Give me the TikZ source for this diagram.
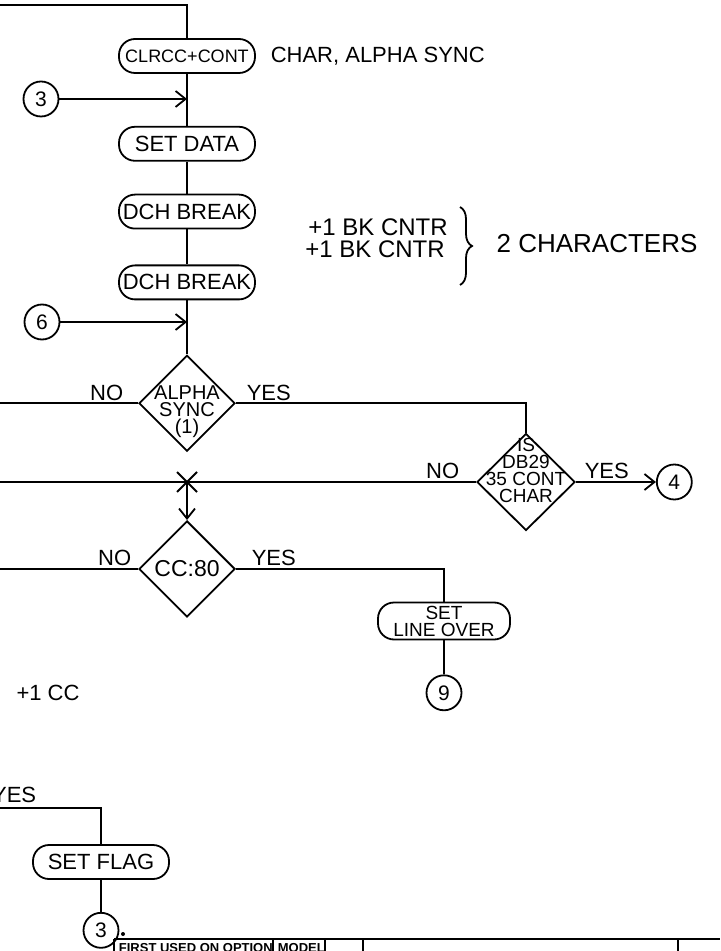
\documentclass[tikz,border=0pt]{standalone}
\usepackage{fontspec}
\setmainfont{Liberation Sans}
\usetikzlibrary{shapes.geometric, arrows.meta, positioning, decorations.pathreplacing}

\begin{document}
\begin{tikzpicture}[
        x=0.5pt, y=-0.5pt,
        line width=0.9pt,
        node distance=16pt and 8pt,
        term/.style={rectangle, draw, rounded corners=8pt, text centered, inner sep=1pt, minimum width=68pt, minimum height=17pt, font=\fontsize{11}{11}\selectfont},
        decision/.style={diamond, draw, inner sep=0pt, minimum width=48pt, minimum height=48pt},
        dtext/.style={align=center, inner sep=0pt, font=\fontsize{9.5}{8.5}\selectfont},
        conn/.style={circle, draw, inner sep=0pt, minimum size=17.5pt, font=\fontsize{10.5}{10.5}\selectfont},
        lbl/.style={inner sep=1pt, font=\fontsize{11}{11}\selectfont},
        arrow/.style={-{Straight Barb[length=5pt, width=8pt]}}
        ]
        \useasboundingbox (0,0) rectangle (720,951);

        % main column
        \coordinate (topin) at (0,5);
        \node[term, font=\fontsize{9}{10}\selectfont] (clr) at (187,56) {CLRCC+CONT};
        \node[lbl, right=6pt of clr] (clrnote) {CHAR, ALPHA SYNC};
        \node[term, below=26pt of clr] (setdata) {SET DATA};
        \node[term, below=16pt of setdata] (dchA) {DCH BREAK};
        \node[term, below=17.5pt of dchA] (dchB) {DCH BREAK};
        \node[decision, below=27pt of dchB] (alpha) {};
        \node[dtext, font=\fontsize{10}{8.5}\selectfont, yshift=-4pt] (alphatxt) at (alpha) {ALPHA\\SYNC\\(1)};

        \draw (topin) -| (clr);
        \draw (clr) -- (setdata);
        \draw (setdata) -- (dchA);
        \draw (dchA) -- (dchB);
        \draw (dchB) -- (alpha);

        % entry points
        \node[conn] (cthree) at (41,99) {3};
        \node[conn] (csix) at (42,322) {6};
        \draw[arrow] (cthree) -- (cthree -| clr);
        \draw[arrow] (csix) -- (csix -| dchB);

        % break counter note
        \node[lbl, font=\fontsize{12}{12}\selectfont] (bkA) at (378,227) {+1 BK CNTR};
        \node[lbl, font=\fontsize{12}{12}\selectfont] (bkB) at (375,249) {+1 BK CNTR};
        \coordinate (brtop) at (460,207);
        \coordinate (brbot) at (460,285);
        \draw[decorate, decoration={brace, amplitude=6pt}] (brtop) -- (brbot);
        \node[lbl, font=\fontsize{13}{13}\selectfont] (chars) at (597,244) {2 CHARACTERS};

        % alpha sync test
        \node[lbl, above left=0pt and 6pt of alpha.west] (alphano) {NO};
        \node[lbl, above right=0pt and 4pt of alpha.east] (alphayes) {YES};
        \draw (alpha.west) -- (alpha.west -| topin);

        \node[decision, minimum width=49pt, minimum height=48.5pt] (db) at (526,482) {};
        \node[dtext, yshift=6pt] (dbtxt) at (db) {IS\\DB29\\35 CONT\\CHAR};
        \draw (alpha.east) -| (db.north);
        \node[lbl, above left=0pt and 7pt of db.west] (dbno) {NO};
        \node[lbl, above right=0pt and 3pt of db.east] (dbyes) {YES};
        \node[conn, right=40pt of db] (cfour) {4};
        \draw[arrow] (db) -- (cfour);

        \coordinate (cross) at (alpha |- db);
        \draw (db.west) -- (db.west -| topin);
        \draw ([shift={(-10,-10)}]cross) -- ([shift={(10,10)}]cross)
              ([shift={(-10,10)}]cross) -- ([shift={(10,-10)}]cross);

        % character count test
        \node[decision, below=19pt of cross] (cc) {};
        \node[dtext, font=\fontsize{11.5}{11.5}\selectfont] (cctxt) at (cc) {CC:80};
        \draw[arrow] (cross) -- (cc);
        \draw (cc.west) -- (cc.west -| topin);
        \node[lbl, above left=0pt and 2pt of cc.west] (ccno) {NO};
        \node[lbl, above right=0pt and 6.5pt of cc.east] (ccyes) {YES};

        \node[term, minimum width=66pt, minimum height=18.5pt, align=center, font=\fontsize{9.5}{8.5}\selectfont] (setline) at (444,621) {SET\\LINE OVER};
        \draw (cc.east) -| (setline);
        \node[conn, below=17pt of setline] (cnine) {9};
        \draw (setline) -- (cnine);
        \node[lbl] (plusc) at (48,693) {+1 CC};

        % set flag branch
        \node[lbl, anchor=east] (yesB) at (39,795) {YES};
        \coordinate (flagin) at (0,808);
        \node[term] (flag) at (101,862) {SET FLAG};
        \draw (flagin) -| (flag);
        \node[conn, below=16pt of flag] (cthreeB) {3};
        \draw (flag) -- (cthreeB);
        \fill (123,934) circle (1pt);

        % title block
        \draw[line width=1.2pt] (114,939) -- (720,939);
        \foreach \x in {114,273,325,363,678}
            \draw[line width=1.2pt] (\x,939) -- (\x,960);
        \node[anchor=north west, inner sep=0pt, font=\bfseries\fontsize{6.5}{6.5}\selectfont] (usedon) at (118,943) {FIRST USED ON OPTION};
        \node[anchor=north west, inner sep=0pt, font=\bfseries\fontsize{6.5}{6.5}\selectfont] (model) at (277,943) {MODEL};
\end{tikzpicture}
\end{document}
